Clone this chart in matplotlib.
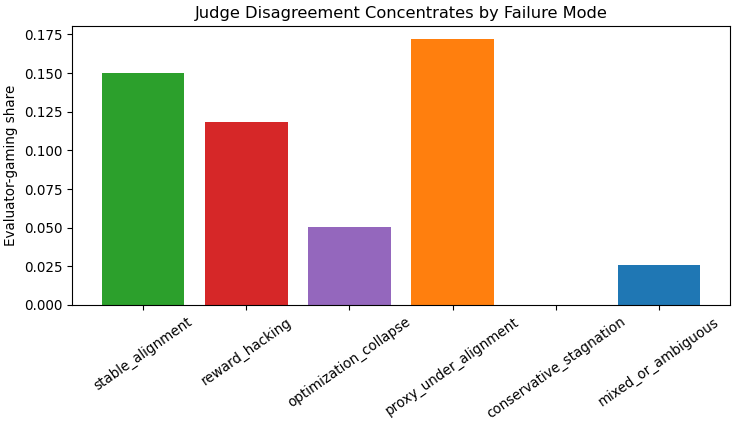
import matplotlib
matplotlib.use("Agg")
import matplotlib.pyplot as plt

categories = ["stable_alignment", "reward_hacking", "optimization_collapse",
              "proxy_under_alignment", "conservative_stagnation", "mixed_or_ambiguous"]
values = [0.150, 0.1182, 0.0506, 0.1718, 0.0, 0.0258]
colors = ["tab:green", "tab:red", "tab:purple", "tab:orange", "tab:gray", "tab:blue"]

plt.rcParams["font.size"] = 9.75
fig = plt.figure(figsize=(7.38, 4.22), dpi=100)
ax = fig.add_axes([72/738, 1-305/422, (730-72)/738, (305-26)/422])
x = range(len(categories))
ax.bar(x, values, color=colors, width=0.8)
ax.set_xticks(list(x))
ax.set_xticklabels(categories, rotation=35)
ax.set_ylabel("Evaluator-gaming share")
ax.set_title("Judge Disagreement Concentrates by Failure Mode")
ax.set_ylim(0, 0.1804)
fig.savefig("out.png", dpi=100)
